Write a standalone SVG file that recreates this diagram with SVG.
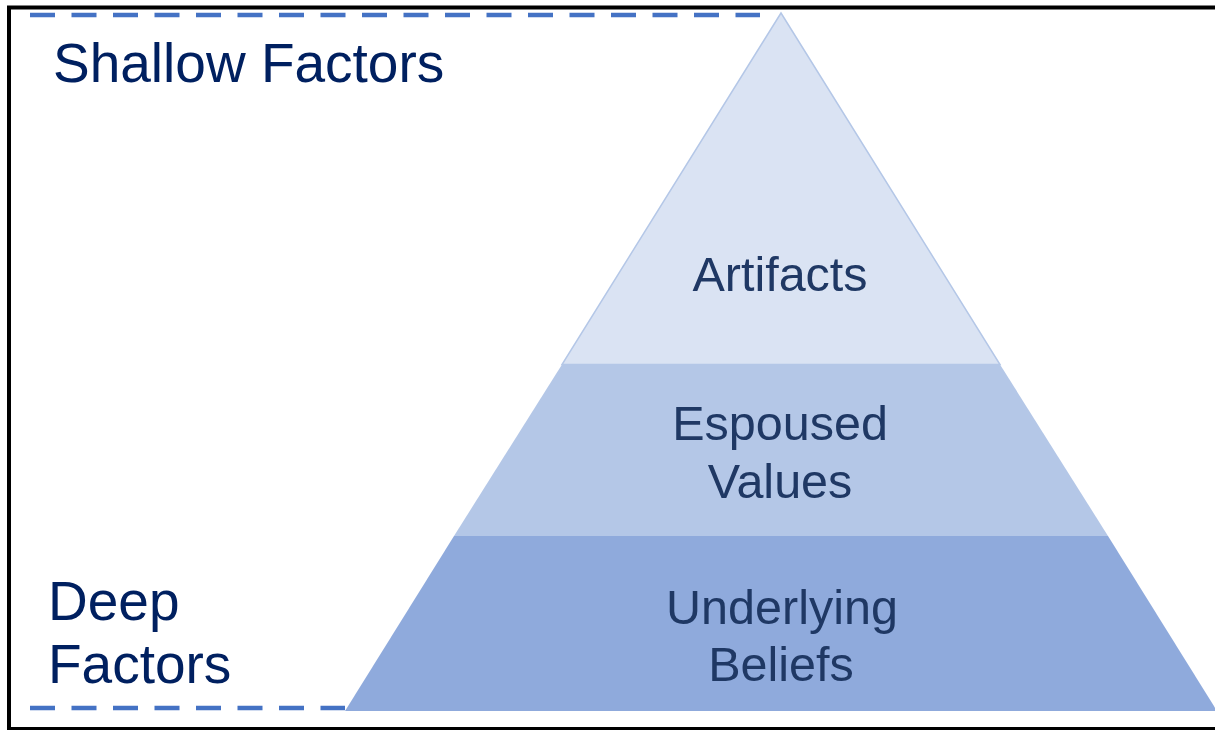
<svg xmlns="http://www.w3.org/2000/svg" width="1215" height="730" viewBox="0 0 1215 730">
<style>
.lbl{font-family:"Liberation Sans",Arial,sans-serif;font-size:48.5px;fill:#1F3864;text-anchor:middle}
.side{font-family:"Liberation Sans",Arial,sans-serif;font-size:55px;fill:#002060}
.dash{stroke:#4472C4;stroke-width:4.5;stroke-dasharray:25 16.5;fill:none}
</style>
<rect x="0" y="0" width="1215" height="730" fill="#FFFFFF"/>
<rect x="9" y="7.5" width="1215" height="721.5" fill="none" stroke="#000000" stroke-width="4"/>
<g id="connectors">
<line class="dash" x1="30" y1="15" x2="760" y2="15"/>
<line class="dash" x1="30" y1="708" x2="345" y2="708"/>
</g>
<g id="artifacts">
<polygon points="781,13 562,364.5 1000,364.5" fill="#DAE3F3" stroke="#B4C7E7" stroke-width="1.5"/>
<text class="lbl" x="780" y="291">Artifacts</text>
</g>
<g id="espoused-values">
<polygon points="562,364.5 1000,364.5 1108,536 454,536" fill="#B4C7E7"/>
<text class="lbl" x="780" y="440">Espoused</text>
<text class="lbl" x="780" y="498">Values</text>
</g>
<g id="underlying-beliefs">
<polygon points="454,536 1108,536 1217,711 345,711" fill="#8FAADC"/>
<text class="lbl" x="782" y="624">Underlying</text>
<text class="lbl" x="781" y="681">Beliefs</text>
</g>
<g id="shallow-factors">
<text class="side" x="53" y="82">Shallow Factors</text>
</g>
<g id="deep-factors">
<text class="side" x="48" y="620">Deep</text>
<text class="side" x="48" y="683">Factors</text>
</g>
</svg>
